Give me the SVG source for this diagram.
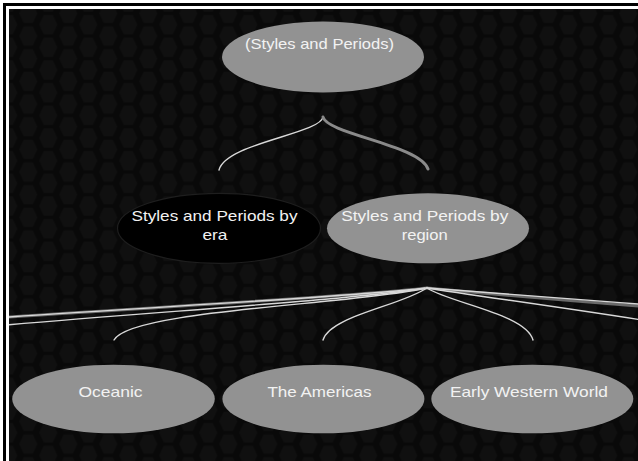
<svg xmlns="http://www.w3.org/2000/svg" width="638" height="461" viewBox="0 0 638 461">
<defs>
<pattern id="hex" patternUnits="userSpaceOnUse" x="8.3" y="2" width="40" height="22.67">
<rect width="40" height="22.67" fill="#090909"/>
<polygon id="h" points="-9,0 -4.5,-9.6 4.5,-9.6 9,0 4.5,9.6 -4.5,9.6" fill="#101010"/>
<use href="#h" x="40" y="0"/>
<use href="#h" x="0" y="22.67"/>
<use href="#h" x="40" y="22.67"/>
<use href="#h" x="20" y="11.33"/>
</pattern>
<clipPath id="clip"><rect x="9" y="9" width="629" height="452"/></clipPath>
<style>
.node{fill:#929292;}
.era{fill:#000;stroke:#1e1e1e;stroke-width:1.2;}
.lbl{font-family:"Liberation Sans",Arial,sans-serif;font-size:15px;fill:#f2f2f2;text-anchor:middle;}
.thin{fill:none;stroke:#d8d8d8;stroke-width:1.4;stroke-linecap:round;}
.thick{fill:none;stroke:#8a8a8a;stroke-width:3;stroke-linecap:round;}
.halo{fill:none;stroke:#6a6a6a;stroke-width:3;stroke-linecap:round;}
</style>
</defs>
<rect width="638" height="461" fill="#fff"/>
<rect x="4.5" y="4.5" width="640" height="460" fill="none" stroke="#000" stroke-width="3"/>
<rect x="9" y="9" width="629" height="452" fill="url(#hex)"/>
<g id="connectors">
<path class="thin" d="M323,117 C320,134 226,143 219,170"/>
<path class="thick" d="M323,117 C327,134 420,145 428,169"/>
<g clip-path="url(#clip)">
<path class="halo" d="M427,288 C350,297 150,307 -5,318"/>
<path class="thin" d="M427,288 C350,297 150,307 -5,318"/>
<path class="thin" d="M427,288 C350,300 150,312 -5,326"/>
<path class="halo" d="M427,288 C470,292 560,300 645,306.5"/>
<path class="thin" d="M427,288 C470,291 560,298 645,304.5"/>
<path class="thin" d="M427,288 C470,295 560,307 645,320.5"/>
</g>
<path class="thin" d="M427,288 C350,305 130,310 114,340"/>
<path class="thin" d="M427,288 C400,306 330,316 323,340"/>
<path class="thin" d="M427,288 C450,303 526,314 533,340"/>
</g>
<g id="n-root">
<ellipse class="node" cx="323" cy="57" rx="101" ry="35.5"/>
<text class="lbl" x="319.5" y="49" textLength="149" lengthAdjust="spacingAndGlyphs">(Styles and Periods)</text>
</g>
<g id="n-era">
<ellipse class="era" cx="219" cy="228.3" rx="101.5" ry="35"/>
<text class="lbl" x="214.5" y="221" textLength="166" lengthAdjust="spacingAndGlyphs">Styles and Periods by</text>
<text class="lbl" x="215" y="240" textLength="25" lengthAdjust="spacingAndGlyphs">era</text>
</g>
<g id="n-region">
<ellipse class="node" cx="428" cy="228.3" rx="101" ry="35"/>
<text class="lbl" x="424.8" y="221" textLength="167" lengthAdjust="spacingAndGlyphs">Styles and Periods by</text>
<text class="lbl" x="424.7" y="240" textLength="46" lengthAdjust="spacingAndGlyphs">region</text>
</g>
<g id="n-oceanic">
<ellipse class="node" cx="113.5" cy="399" rx="101.3" ry="34.3"/>
<text class="lbl" x="110.5" y="397" textLength="64" lengthAdjust="spacingAndGlyphs">Oceanic</text>
</g>
<g id="n-americas">
<ellipse class="node" cx="323.4" cy="399" rx="101" ry="34.3"/>
<text class="lbl" x="319.4" y="397" textLength="104" lengthAdjust="spacingAndGlyphs">The Americas</text>
</g>
<g id="n-early">
<ellipse class="node" cx="532.3" cy="399" rx="101" ry="34.3"/>
<text class="lbl" x="528.9" y="397" textLength="158" lengthAdjust="spacingAndGlyphs">Early Western World</text>
</g>
</svg>
